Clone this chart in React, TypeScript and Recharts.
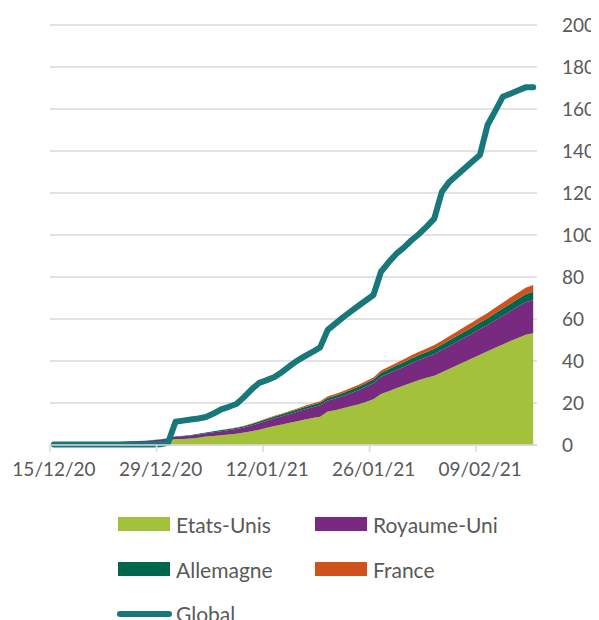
import React from 'react';
import { ComposedChart, Area, Line, XAxis, YAxis, CartesianGrid } from 'recharts';

// Days since 15/12/20 (one value per day, 15/12/20 .. 16/02/21), in millions
const etatsUnis = [
  0, 0.01, 0.05, 0.1, 0.2, 0.3, 0.4, 0.5, 0.6, 0.7,
  0.9, 1.0, 1.1, 1.3, 1.6, 2.0, 2.8, 2.9, 3.1, 3.5,
  4.0, 4.3, 4.6, 5.0, 5.4, 5.9, 6.6, 7.3, 8.2, 9.0,
  9.8, 10.6, 11.3, 12.2, 12.9, 13.5, 15.9, 16.6, 17.5, 18.4,
  19.3, 20.5, 21.8, 24.3, 25.6, 27.0, 28.3, 29.7, 31.0, 32.0,
  33.0, 34.6, 36.3, 38.0, 39.7, 41.3, 43.0, 44.7, 46.3, 47.9,
  49.5, 51.0, 52.5, 53.2,
];
const royaumeUni = [
  0.1, 0.15, 0.2, 0.3, 0.4, 0.5, 0.6, 0.7, 0.75, 0.8,
  0.85, 0.9, 0.95, 1.0, 1.05, 1.1, 1.2, 1.3, 1.4, 1.5,
  1.6, 1.8, 2.0, 2.1, 2.2, 2.4, 2.7, 3.1, 3.4, 3.7,
  3.9, 4.2, 4.5, 4.8, 5.1, 5.4, 5.3, 5.5, 5.8, 6.3,
  6.8, 7.2, 7.6, 8.2, 8.5, 8.7, 8.9, 9.2, 9.5, 9.9,
  10.3, 10.6, 10.9, 11.2, 11.5, 11.8, 12.2, 12.5, 13.1, 13.7,
  14.3, 14.9, 15.5, 15.8,
];
const allemagne = [
  0, 0, 0, 0, 0, 0, 0, 0, 0, 0,
  0, 0, 0.02, 0.05, 0.1, 0.15, 0.2, 0.25, 0.3, 0.35,
  0.4, 0.45, 0.5, 0.55, 0.6, 0.65, 0.7, 0.75, 0.8, 0.85,
  0.9, 1.0, 1.1, 1.15, 1.2, 1.25, 1.3, 1.4, 1.5, 1.55,
  1.6, 1.7, 1.8, 1.9, 2.0, 2.1, 2.2, 2.3, 2.35, 2.4,
  2.5, 2.6, 2.7, 2.8, 2.9, 3.0, 3.1, 3.2, 3.3, 3.4,
  3.5, 3.6, 3.8, 4.0,
];
const france = [
  0, 0, 0, 0, 0, 0, 0, 0, 0, 0,
  0, 0, 0, 0, 0, 0, 0, 0, 0, 0,
  0.01, 0.02, 0.05, 0.08, 0.12, 0.16, 0.2, 0.25, 0.3, 0.35,
  0.4, 0.45, 0.5, 0.55, 0.6, 0.65, 0.7, 0.75, 0.8, 0.85,
  0.9, 0.95, 1.0, 1.1, 1.2, 1.3, 1.4, 1.5, 1.6, 1.7,
  1.8, 1.9, 2.0, 2.1, 2.2, 2.3, 2.4, 2.5, 2.6, 2.75,
  2.9, 3.0, 3.1, 3.2,
];
const globalTotal = [
  0.2, 0.2, 0.2, 0.2, 0.2, 0.2, 0.2, 0.2, 0.2, 0.2,
  0.2, 0.2, 0.2, 0.2, 0.3, 1.0, 11.1, 11.6, 12.1, 12.6,
  13.3, 15.0, 17.0, 18.2, 19.5, 22.8, 26.5, 29.6, 30.9, 32.4,
  34.8, 37.6, 40.2, 42.3, 44.3, 46.5, 54.8, 57.8, 60.8, 63.5,
  66.2, 68.8, 71.4, 82.5, 87.0, 91.0, 94.0, 97.5, 100.5, 104.0,
  107.8, 120.6, 125.4, 128.6, 131.8, 135.0, 138.1, 152.4, 159.0, 165.8,
  167.3, 168.8, 170.3, 170.3,
];

const tickDays = [0, 14, 28, 42, 56];
const tickLabels = ['15/12/20', '29/12/20', '12/01/21', '26/01/21', '09/02/21'];
const yTicks = [0, 20, 40, 60, 80, 100, 120, 140, 160, 180, 200];

const seriesNames = ['Etats-Unis', 'Royaume-Uni', 'Allemagne', 'France', 'Global'];
const seriesColors = ['#A3C13A', '#772A80', '#00664D', '#CF521C', '#18777A'];

const data = etatsUnis.map((v, i) => ({
  day: i + 0.5,
  us: v,
  uk: royaumeUni[i],
  de: allemagne[i],
  fr: france[i],
  global: globalTotal[i],
}));

const FONT = 'Lato, "Liberation Sans", sans-serif';
const TEXT = '#595959';
const GRID = '#D9D9D9';

function LegendOverlay() {
  const rows = [
    { items: [0, 1], y: 516 },
    { items: [2, 3], y: 561 },
  ];
  const colX = [110, 307];
  return (
    <svg width={591} height={612} style={{ position: 'absolute', left: 0, top: 0, pointerEvents: 'none' }}>
      {rows.map((r) =>
        r.items.map((idx, c) => (
          <g key={idx}>
            <rect x={colX[c]} y={r.y - 7} width={52} height={14} fill={seriesColors[idx]} />
            <text x={colX[c] + 58} y={r.y} dominantBaseline="central" fontFamily={FONT} fontSize={21} fill={TEXT}>
              {seriesNames[idx]}
            </text>
          </g>
        ))
      )}
      <line x1={112} y1={606} x2={161} y2={606} stroke={seriesColors[4]} strokeWidth={6} strokeLinecap="round" />
      <text x={168} y={605} dominantBaseline="central" fontFamily={FONT} fontSize={21} fill={TEXT}>
        {seriesNames[4]}
      </text>
    </svg>
  );
}

export default function App() {
  return (
    <div style={{ position: 'relative', width: 591, height: 612 }}>
      <ComposedChart
        width={591}
        height={612}
        data={data}
        margin={{ top: 17, right: 0, bottom: 135, left: 42 }}
        style={{ overflow: 'visible' }}
      >
        <CartesianGrid horizontal vertical={false} stroke={GRID} strokeWidth={1.5} />
        <XAxis
          dataKey="day"
          type="number"
          domain={[0, 64]}
          ticks={tickDays}
          tickFormatter={(v: number) => tickLabels[tickDays.indexOf(v)]}
          height={40}
          axisLine={{ stroke: GRID, strokeWidth: 1.5 }}
          tickLine={{ stroke: GRID, strokeWidth: 1.5 }}
          tickSize={7}
          tickMargin={11}
          tick={{ fill: TEXT, fontSize: 19, fontFamily: FONT, dx: 4 }}
          interval={0}
        />
        <YAxis
          orientation="right"
          domain={[0, 200]}
          ticks={yTicks}
          width={62}
          axisLine={false}
          tickLine={false}
          tickSize={6}
          tickMargin={19}
          tick={{ fill: TEXT, fontSize: 19, fontFamily: FONT }}
          interval={0}
        />
        <Area type="linear" dataKey="us" stackId="1" stroke="none" fill={seriesColors[0]} fillOpacity={1} isAnimationActive={false} />
        <Area type="linear" dataKey="uk" stackId="1" stroke="none" fill={seriesColors[1]} fillOpacity={1} isAnimationActive={false} />
        <Area type="linear" dataKey="de" stackId="1" stroke="none" fill={seriesColors[2]} fillOpacity={1} isAnimationActive={false} />
        <Area type="linear" dataKey="fr" stackId="1" stroke="none" fill={seriesColors[3]} fillOpacity={1} isAnimationActive={false} />
        <Line
          type="linear"
          dataKey="global"
          stroke={seriesColors[4]}
          strokeWidth={6}
          strokeLinecap="round"
          strokeLinejoin="round"
          dot={false}
          activeDot={false}
          isAnimationActive={false}
        />
      </ComposedChart>
      <LegendOverlay />
    </div>
  );
}
